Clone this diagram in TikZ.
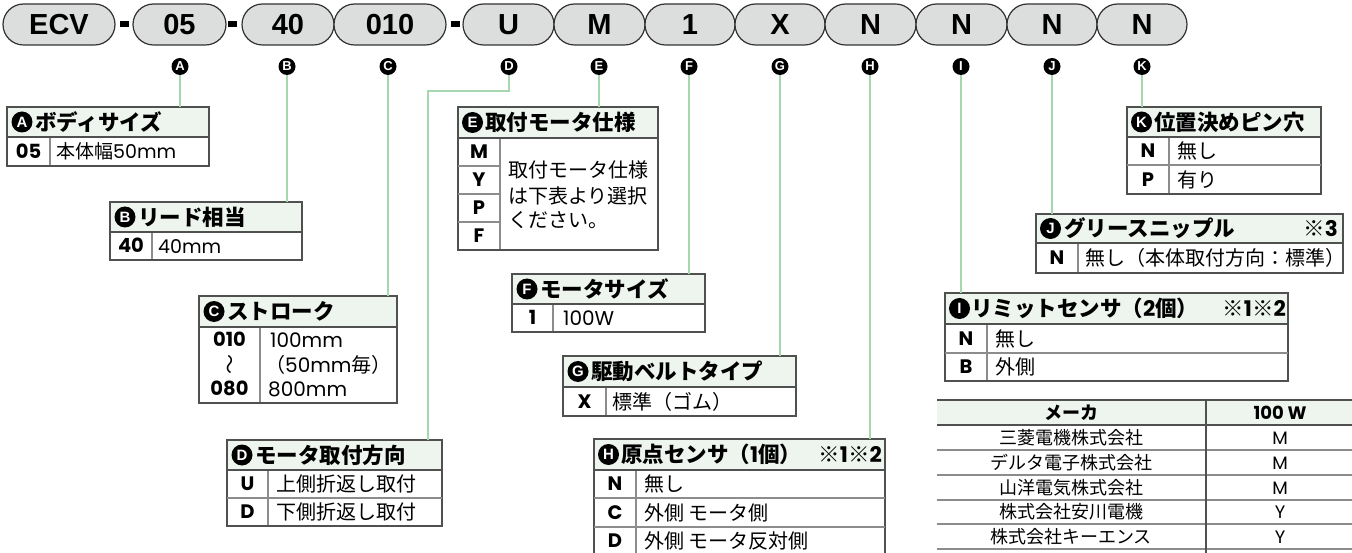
\documentclass[tikz,border=0pt]{standalone}
\usepackage{fontspec}
\setmainfont{Noto Sans CJK JP}
\newfontfamily\jp{Noto Sans CJK JP}
\newfontfamily\pop{Poppins}
\newfontfamily\arial{Liberation Sans}
\newcommand\lat[1]{{\pop #1}}
\definecolor{pillfill}{RGB}{220,221,221}
\definecolor{pilldraw}{RGB}{50,50,50}
\definecolor{hdrfill}{RGB}{237,245,238}
\definecolor{framecol}{RGB}{80,80,80}
\definecolor{innercol}{RGB}{140,140,140}
\definecolor{conncol}{RGB}{166,216,176}
\newcommand\mytab[7]{%
  \fill[hdrfill] (#2,#3) rectangle (#4,#6);
  \draw[innerline] (#7,#6) -- (#7,#5);
  \draw[frameline] (#2,#6) -- (#4,#6);
  \node[frame, anchor=north west, minimum width={#4-#2}, minimum height={#5-#3}] (#1) at (#2,#3) {};
}
\begin{document}
\begin{tikzpicture}[x=1pt,y=-1pt,
  pill/.style={draw=pilldraw, fill=pillfill, line width=1.2pt, rounded corners=20.5pt,
    minimum height=41pt, inner sep=0pt, font=\arial\bfseries\fontsize{29}{29}\selectfont,
    text height=21pt, text depth=0pt},
  dashbar/.style={fill=black, minimum width=9pt, minimum height=6pt, inner sep=0pt},
  lcirc/.style={circle, fill=black, minimum size=17pt, inner sep=0pt, text=white,
    font=\arial\bfseries\fontsize{13}{13}\selectfont},
  hcirc/.style={circle, fill=black, minimum size=21pt, inner sep=0pt, text=white,
    font=\arial\bfseries\fontsize{15}{15}\selectfont},
  htxt/.style={anchor=west, inner sep=0pt, font=\jp\bfseries\fontsize{21.5}{21.5}\selectfont,
    text height=16.3pt, text depth=0pt},
  hnote/.style={htxt, anchor=east},
  code/.style={inner sep=0pt, font=\pop\bfseries\fontsize{19.5}{19.5}\selectfont,
    text height=13.6pt, text depth=0pt},
  body/.style={anchor=west, inner sep=0pt, font=\jp\fontsize{20}{20}\selectfont,
    text height=15.2pt, text depth=0pt},
  bodys/.style={body, font=\jp\fontsize{19}{19}\selectfont, text height=14.4pt},
  tcell/.style={inner sep=0pt, font=\jp\fontsize{18}{18}\selectfont, text height=13.7pt, text depth=0pt},
  thead/.style={tcell, font=\jp\bfseries\fontsize{18}{18}\selectfont},
  frame/.style={draw=framecol, line width=1.3pt, inner sep=0pt, outer sep=0pt},
  frameline/.style={draw=framecol, line width=1.3pt},
  innerline/.style={draw=innercol, line width=1.1pt},
  conn/.style={draw=conncol, line width=1.3pt}
]
\useasboundingbox (0,0) rectangle (1352,553);

% ---- code pills ----
\node[pill, minimum width=112pt] (pECV) at (59,24.5) {ECV};
\node[dashbar] (d1) at (124.5,23.7) {};
\node[pill, minimum width=93pt] (p05) at (179.5,24.5) {05};
\node[dashbar] (d2) at (232,23.7) {};
\node[pill, minimum width=92pt] (p40) at (288,24.5) {40};
\node[pill, minimum width=112pt] (p010) at (390,24.5) {010};
\node[dashbar] (d3) at (455,23.7) {};
\node[pill, minimum width=91pt] (pU) at (508.5,24.5) {U};
\node[pill, minimum width=91pt] (pM) at (599.5,24.5) {M};
\node[pill, minimum width=90pt] (p1) at (690,24.5) {1};
\node[pill, minimum width=90pt] (pX) at (780,24.5) {X};
\node[pill, minimum width=91pt] (pN1) at (870.5,24.5) {N};
\node[pill, minimum width=91pt] (pN2) at (961.5,24.5) {N};
\node[pill, minimum width=90pt] (pN3) at (1052,24.5) {N};
\node[pill, minimum width=90pt] (pN4) at (1142,24.5) {N};

% ---- letter circles ----
\node[lcirc] (cA) at (180,66.5) {A};
\node[lcirc] (cB) at (287,66.5) {B};
\node[lcirc] (cC) at (388,66.5) {C};
\node[lcirc] (cD) at (509,66.5) {D};
\node[lcirc] (cE) at (599,66.5) {E};
\node[lcirc] (cF) at (689,66.5) {F};
\node[lcirc] (cG) at (780,66.5) {G};
\node[lcirc] (cH) at (870,66.5) {H};
\node[lcirc] (cI) at (961,66.5) {I};
\node[lcirc] (cJ) at (1052,66.5) {J};
\node[lcirc] (cK) at (1142,66.5) {K};

% ---- tables ----
% A
\mytab{tA}{7}{107}{209}{166}{137}{50}
\node[hcirc] (hA) at (22,122) {A};
\node[htxt] (hAt) at (35,122) {ボディサイズ};
\node[code] (a1) at (28.5,151.5) {05};
\node[bodys] (a1t) at (56,151.5) {本体幅\lat{50mm}};
% B
\mytab{tB}{110}{202}{302}{260}{232}{152}
\node[hcirc] (hB) at (125,217) {B};
\node[htxt] (hBt) at (138,217) {リード相当};
\node[code] (b1) at (131,246) {40};
\node[bodys] (b1t) at (158,246) {\lat{40mm}};
% C
\mytab{tC}{199}{296}{397}{403}{327}{260}
\node[hcirc] (hC) at (214,311.5) {C};
\node[htxt] (hCt) at (227,311.5) {ストローク};
\node[code] (c1) at (229.5,340) {010};
\node[body, anchor=center, rotate=90] (c2) at (229.5,364.5) {〜};
\node[code] (c3) at (229.5,389) {080};
\node[body] (c1t) at (270,340) {\lat{100mm}};
\node[body] (c2t) at (265,364.5) {（\lat{50mm}毎）};
\node[body] (c3t) at (268,389) {\lat{800mm}};
% D
\mytab{tD}{227}{440}{442}{526}{470}{268}
\draw[innerline] (227,498) -- (442,498);
\node[hcirc] (hD) at (242,455) {D};
\node[htxt] (hDt) at (255,455) {モータ取付方向};
\node[code] (d1c) at (247.5,484) {U};
\node[body] (d1t) at (276,484) {上側折返し取付};
\node[code] (d2c) at (247.5,512) {D};
\node[body] (d2t) at (276,512) {下側折返し取付};
% E
\mytab{tE}{458}{107}{658}{250}{138}{500}
\foreach \yy in {166,194,222} \draw[innerline] (458,\yy) -- (500,\yy);
\node[hcirc] (hE) at (472.5,122.5) {E};
\node[htxt] (hEt) at (485,122.5) {取付モータ仕様};
\node[code] (e1) at (479,152) {M};
\node[code] (e2) at (479,180) {Y};
\node[code] (e3) at (479,208) {P};
\node[code] (e4) at (479,236) {F};
\node[body] (e1t) at (508,170) {取付モータ仕様};
\node[body] (e2t) at (508,195.5) {は下表より選択};
\node[body] (e3t) at (508,219.5) {ください。};
% F
\mytab{tF}{512}{274}{705}{332}{304}{553}
\node[hcirc] (hF) at (527,289) {F};
\node[htxt] (hFt) at (540,289) {モータサイズ};
\node[code] (f1) at (532.5,318) {1};
\node[body] (f1t) at (563,318) {\lat{100W}};
% G
\mytab{tG}{563}{356}{796}{416}{387}{606}
\node[hcirc] (hG) at (578,371.5) {G};
\node[htxt] (hGt) at (591,371.5) {駆動ベルトタイプ};
\node[code] (g1) at (584.5,401.5) {X};
\node[body] (g1t) at (612,401.5) {標準（ゴム）};
% H
\mytab{tH}{594}{439}{885}{556}{470}{636}
\draw[innerline] (594,498) -- (885,498);
\draw[innerline] (594,527) -- (885,527);
\node[hcirc] (hH) at (608.5,454.5) {H};
\node[htxt] (hHt) at (621,454.5) {原点センサ（\lat{1}個）};
\node[hnote] (hHn) at (882,454.5) {※\lat{1}※\lat{2}};
\node[code] (h1) at (615,484) {N};
\node[body] (h1t) at (644,484) {無し};
\node[code] (h2) at (615,512.5) {C};
\node[body] (h2t) at (644,512.5) {外側 モータ側};
\node[code] (h3) at (615,541) {D};
\node[body] (h3t) at (644,541) {外側 モータ反対側};
% I
\mytab{tI}{945}{293}{1288}{381}{324}{987}
\draw[innerline] (945,353) -- (1288,353);
\node[hcirc] (hI) at (959.5,308.5) {I};
\node[htxt] (hIt) at (971,308.5) {リミットセンサ（\lat{2}個）};
\node[hnote] (hIn) at (1286,308.5) {※\lat{1}※\lat{2}};
\node[code] (i1) at (966,338.5) {N};
\node[body] (i1t) at (995,338.5) {無し};
\node[code] (i2) at (966,367) {B};
\node[body] (i2t) at (995,367) {外側};
% J
\mytab{tJ}{1036}{214}{1343}{273}{243}{1078}
\node[hcirc] (hJ) at (1050.5,228.5) {J};
\node[htxt] (hJt) at (1064,228.5) {グリースニップル};
\node[hnote] (hJn) at (1338,228.5) {※\lat{3}};
\node[code] (j1) at (1057,258) {N};
\node[body] (j1t) at (1085,258) {無し（本体取付方向：標準）};
% K
\mytab{tK}{1127}{107}{1321}{194}{137}{1169}
\draw[innerline] (1127,165) -- (1321,165);
\node[hcirc] (hK) at (1141.5,122) {K};
\node[htxt] (hKt) at (1154,122) {位置決めピン穴};
\node[code] (k1) at (1148,151) {N};
\node[body] (k1t) at (1177,151) {無し};
\node[code] (k2) at (1148,179.5) {P};
\node[body] (k2t) at (1177,179.5) {有り};

% ---- connectors ----
\draw[conn] (cA.south) -- (cA.south |- tA.north);
\draw[conn] (cB.south) -- (cB.south |- tB.north);
\draw[conn] (cC.south) -- (cC.south |- tC.north);
\coordinate (dk) at (428,91);
\draw[conn] (cD.south) |- (dk) -- (dk |- tD.north);
\draw[conn] (cE.south) -- (cE.south |- tE.north);
\draw[conn] (cF.south) -- (cF.south |- tF.north);
\draw[conn] (cG.south) -- (cG.south |- tG.north);
\draw[conn] (cH.south) -- (cH.south |- tH.north);
\draw[conn] (cI.south) -- (cI.south |- tI.north);
\draw[conn] (cJ.south) -- (cJ.south |- tJ.north);
\draw[conn] (cK.south) -- (cK.south |- tK.north);

% ---- maker table ----
\fill[hdrfill] (937,400) rectangle (1352,425);
\foreach \yy in {450,475,500,524,549} \draw[innerline] (937,\yy) -- (1352,\yy);
\draw[frameline] (937,400) -- (1352,400);
\draw[frameline] (937,425) -- (1352,425);
\draw[frameline] (1206,400) -- (1206,560);
\node[thead] (mh1) at (1071,412.5) {メーカ};
\node[thead] (mh2) at (1280,412.5) {\pop\bfseries 100 W};
\node[tcell] (m1) at (1071,437.5) {三菱電機株式会社};
\node[tcell] (m1c) at (1280,437.5) {\lat{M}};
\node[tcell] (m2) at (1071,462.5) {デルタ電子株式会社};
\node[tcell] (m2c) at (1280,462.5) {\lat{M}};
\node[tcell] (m3) at (1071,487.5) {山洋電気株式会社};
\node[tcell] (m3c) at (1280,487.5) {\lat{M}};
\node[tcell] (m4) at (1071,512) {株式会社安川電機};
\node[tcell] (m4c) at (1280,512) {\lat{Y}};
\node[tcell] (m5) at (1071,536.5) {株式会社キーエンス};
\node[tcell] (m5c) at (1280,536.5) {\lat{Y}};
\end{tikzpicture}
\end{document}
